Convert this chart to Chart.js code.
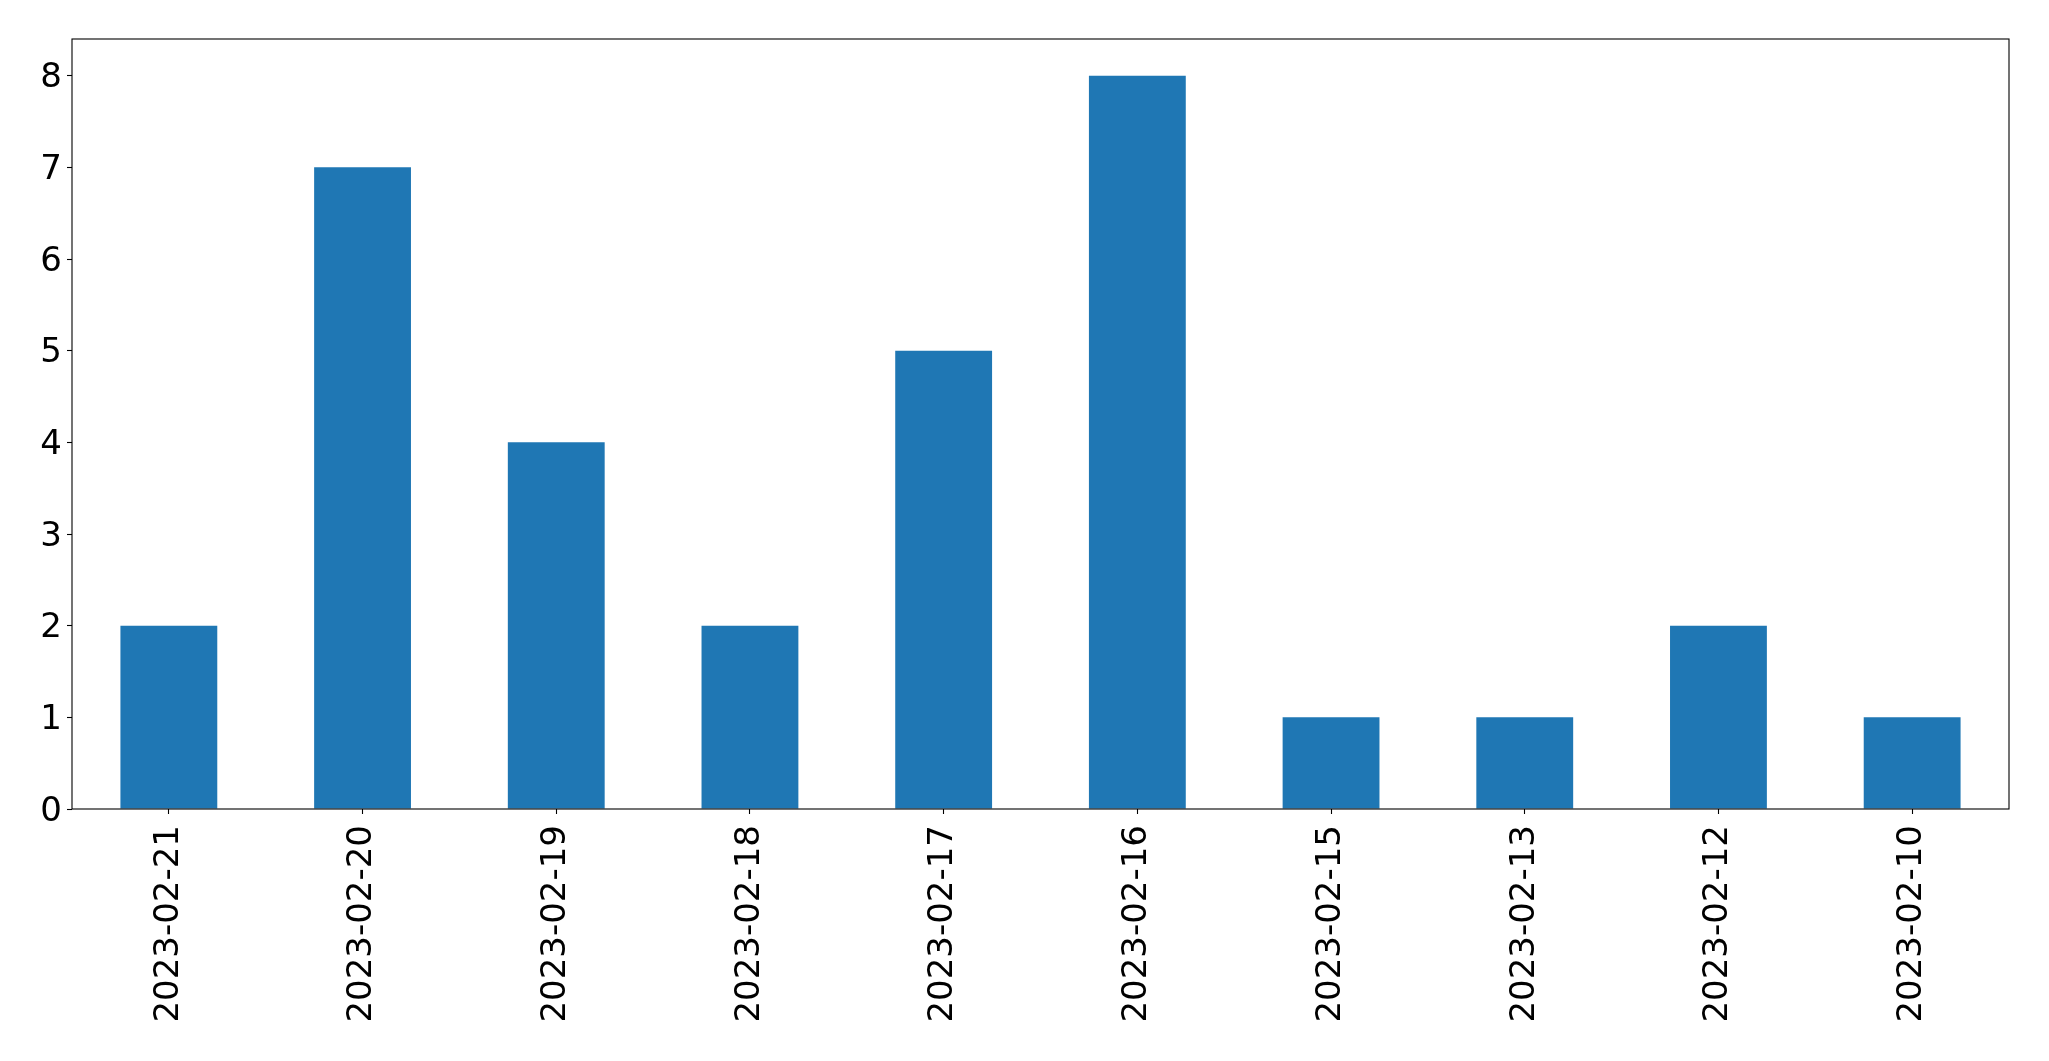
<!DOCTYPE html>
<html>
<head>
<meta charset="utf-8">
<script src="https://cdn.jsdelivr.net/npm/chart.js@4/dist/chart.umd.min.js"></script>
<style>
html,body{margin:0;padding:0;background:#fff;}
#wrap{width:2049px;height:1061px;position:relative;}
</style>
</head>
<body>
<div id="wrap"><canvas id="c"></canvas></div>
<script>
const categories = ["2023-02-21","2023-02-20","2023-02-19","2023-02-18","2023-02-17","2023-02-16","2023-02-15","2023-02-13","2023-02-12","2023-02-10"];
const counts = [2,7,4,2,5,8,1,1,2,1];
const yTicks = [0,1,2,3,4,5,6,7,8];

const frame = {
  id: 'frame',
  afterDatasetsDraw(chart) {
    const a = chart.chartArea, ctx = chart.ctx;
    ctx.save();
    ctx.strokeStyle = '#000';
    ctx.lineWidth = 1.1;
    ctx.strokeRect(a.left, a.top, a.right - a.left, a.bottom - a.top);
    ctx.restore();
  }
};

new Chart(document.getElementById('c'), {
  type: 'bar',
  data: {
    labels: categories,
    datasets: [{
      data: counts,
      backgroundColor: '#1f77b4',
      barPercentage: 0.5,
      categoryPercentage: 1.0
    }]
  },
  options: {
    responsive: true,
    maintainAspectRatio: false,
    animation: false,
    devicePixelRatio: 1,
    layout: { padding: { top: 39, right: 40, left: 0, bottom: 0 } },
    plugins: { legend: { display: false }, tooltip: { enabled: false } },
    scales: {
      x: {
        offset: true,
        grid: { display: true, drawOnChartArea: false, drawTicks: true, tickLength: 5, tickColor: '#000', tickWidth: 1.1, offset: false },
        border: { display: false },
        ticks: { color: '#000', font: { family: 'DejaVu Sans', size: 34 }, maxRotation: 90, minRotation: 90, padding: 11, autoSkip: false },
        afterFit(s) { s.height = 252; }
      },
      y: {
        min: 0,
        max: 8.4,
        afterBuildTicks(s) { s.ticks = yTicks.map(v => ({ value: v })); },
        grid: { display: true, drawOnChartArea: false, drawTicks: true, tickLength: 5, tickColor: '#000', tickWidth: 1.1 },
        border: { display: false },
        ticks: { color: '#000', font: { family: 'DejaVu Sans', size: 34 }, padding: 5, labelOffset: 3 },
        afterFit(s) { s.width = 72; }
      }
    }
  },
  plugins: [frame]
});
</script>
</body>
</html>
